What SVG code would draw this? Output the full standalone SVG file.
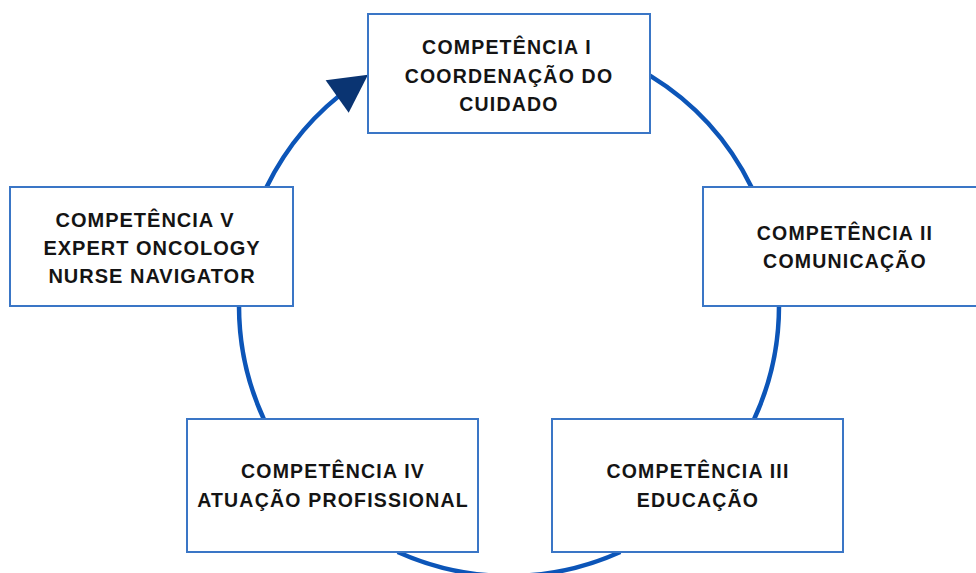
<svg xmlns="http://www.w3.org/2000/svg" width="976" height="573" viewBox="0 0 976 573">
<style>
.box{fill:#ffffff;stroke:#3a76c6;stroke-width:2}
.arc{fill:none;stroke:#0c55b8;stroke-width:4.5}
.t{font-family:"Liberation Sans",Arial,sans-serif;font-weight:bold;font-size:19.5px;letter-spacing:1.2px;fill:#141414;text-anchor:middle}
.t5{font-size:20px;letter-spacing:1px}
</style>
<defs>
<marker id="ah" markerUnits="userSpaceOnUse" markerWidth="40" markerHeight="40" viewBox="0 0 34 36" refX="18" refY="18" orient="auto">
<path d="M0,0 L34,18 L0,36 Z" fill="#0a3472"/>
</marker>
</defs>
<rect width="976" height="573" fill="#ffffff"/>
<g id="connectors">
<path class="arc" d="M650,75.7 A270,270 0 0 1 751.4,187"/>
<path class="arc" d="M779,306 A270,270 0 0 1 754.2,419"/>
<path class="arc" d="M620.3,552 A270,270 0 0 1 397.7,552"/>
<path class="arc" d="M263.8,419 A270,270 0 0 1 239,306"/>
<path class="arc" d="M266.6,187 A270,270 0 0 1 353.5,85" marker-end="url(#ah)"/>
</g>
<g id="node-1">
<rect class="box" x="368" y="14" width="282" height="119"/>
<text class="t" x="507" y="54">COMPETÊNCIA I</text>
<text class="t" x="509" y="82.5">COORDENAÇÃO DO</text>
<text class="t" x="509" y="111">CUIDADO</text>
</g>
<g id="node-2">
<rect class="box" x="703" y="187" width="282" height="119"/>
<text class="t" x="845" y="239.5">COMPETÊNCIA II</text>
<text class="t" x="845" y="267.5">COMUNICAÇÃO</text>
</g>
<g id="node-3">
<rect class="box" x="552" y="419" width="291" height="133"/>
<text class="t" x="698" y="478">COMPETÊNCIA III</text>
<text class="t" x="698" y="506.5">EDUCAÇÃO</text>
</g>
<g id="node-4">
<rect class="box" x="187" y="419" width="291" height="133"/>
<text class="t" x="333" y="478">COMPETÊNCIA IV</text>
<text class="t" x="333" y="506.5">ATUAÇÃO PROFISSIONAL</text>
</g>
<g id="node-5">
<rect class="box" x="10" y="187" width="283" height="119"/>
<text class="t t5" x="145" y="227">COMPETÊNCIA V</text>
<text class="t t5" x="152" y="255">EXPERT ONCOLOGY</text>
<text class="t t5" x="152" y="283">NURSE NAVIGATOR</text>
</g>
</svg>
